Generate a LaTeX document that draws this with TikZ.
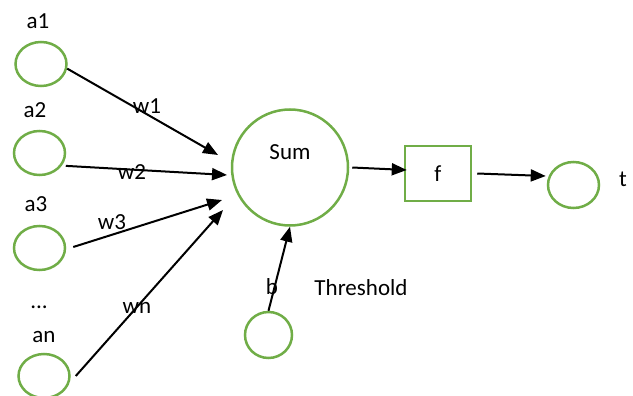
\documentclass[tikz,border=0pt]{standalone}
\usepackage{fontspec}
\setmainfont{Carlito}
\usetikzlibrary{arrows.meta,shapes.geometric}
\definecolor{ogreen}{RGB}{112,173,71}
\begin{document}
\begin{tikzpicture}[x=1pt,y=-1pt,
  every node/.style={font=\fontsize{23}{27}\selectfont},
  inp/.style={draw=ogreen,line width=2.5pt,ellipse,minimum width=51pt,minimum height=44pt,inner sep=0pt},
  sumnode/.style={draw=ogreen,line width=2.5pt,circle,minimum size=116pt,inner sep=0pt},
  fbox/.style={draw=ogreen,line width=2.5pt,rectangle,minimum width=66pt,minimum height=55pt,inner sep=0pt},
  txt/.style={inner sep=0pt},
  arr/.style={line width=2pt,-{Triangle[length=15pt,width=12pt]}}]
\useasboundingbox (0,0) rectangle (633,396);
% input nodes
\node[inp] (a1) at (41,64) {};
\node[inp] (a2) at (39.5,153) {};
\node[inp] (a3) at (39.5,248) {};
\node[inp] (an) at (44,376) {};
\node[inp, minimum width=47pt,minimum height=46pt] (b) at (268.5,335) {};
\node[sumnode] (sum) at (290,167.5) {};
\node[fbox] (f) at (438,173.5) {f};
\node[inp, minimum width=51pt,minimum height=46pt] (t) at (573.5,185) {};
% labels
\node[txt] (la1) at (38,21) {a1};
\node[txt] (la2) at (35,110) {a2};
\node[txt] (la3) at (36,204) {a3};
\node[txt] (ldots) at (39,307) {...};
\node[txt] (lan) at (44,337) {an};
\node[txt] (lsum) at (290,152) {Sum};
\node[txt] (lt) at (623,179) {t};
\node[txt] (lthr) at (361,288) {Threshold};
% tips
\coordinate (t1) at (218,155);
\coordinate (t2) at (227,175);
\coordinate (t3) at (222,200);
\coordinate (tn) at (223,210);
% arrows
\draw[arr] (a1.-10) -- (t1);
\draw[arr] ([xshift=4pt]a2.-30) -- (t2);
\draw[arr] ([xshift=7pt,yshift=1pt]a3.east) -- (t3);
\draw[arr] ([xshift=5pt]an.east) -- (tn);
\draw[arr] (b.north) -- (sum.south);
\draw[arr] ([xshift=3pt]sum.east) -- ([xshift=3pt,yshift=3.5pt]f.west);
\draw[arr] ([xshift=5pt]f.east) -- ([xshift=-1pt,yshift=9pt]t.west);
% weight labels
\node[txt] (w1) at (147,106) {w1};
\node[txt] (w2) at (132,172) {w2};
\node[txt] (w3) at (112,222) {w3};
\node[txt] (wn) at (137,308) {wn};
\node[txt] (lb) at (272,287) {b};
\end{tikzpicture}
\end{document}
